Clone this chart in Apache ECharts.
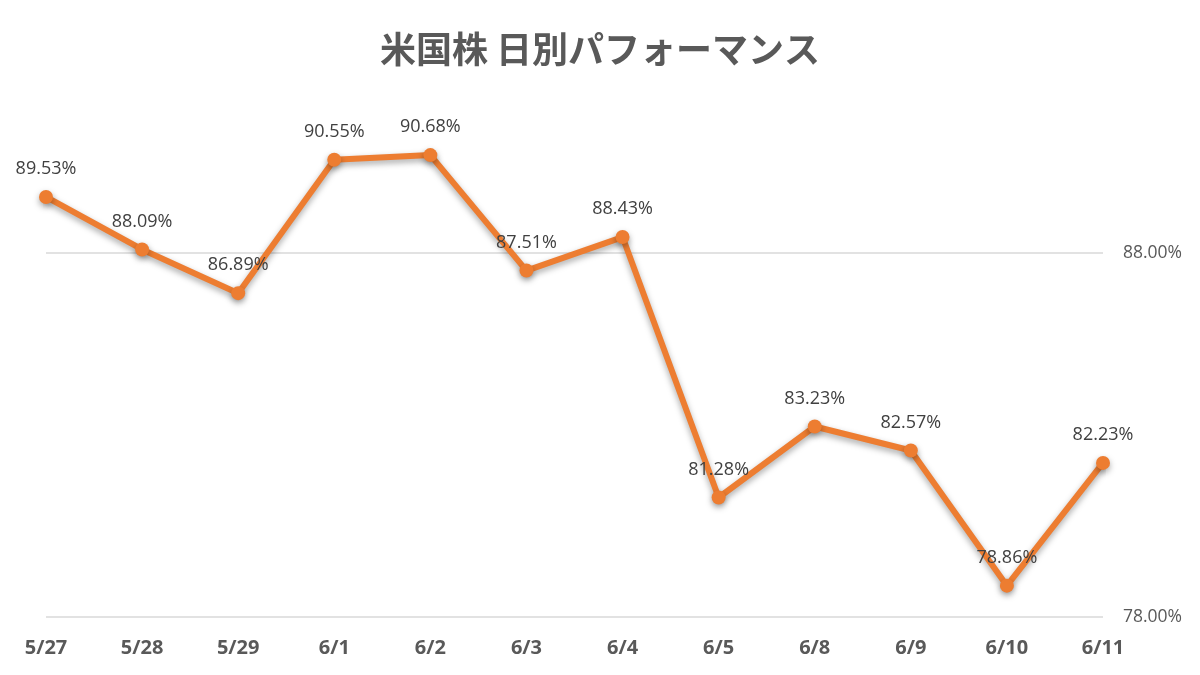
<!DOCTYPE html>
<html><head><meta charset="utf-8">
<script src="https://cdn.jsdelivr.net/npm/echarts@6/dist/echarts.min.js"></script>
<style>html,body{margin:0;padding:0;background:#fff}#c{width:1200px;height:675px}</style>
</head><body><div id="c"></div>
<script>
const title = '米国株 日別パフォーマンス';
const categories = ['5/27','5/28','5/29','6/1','6/2','6/3','6/4','6/5','6/8','6/9','6/10','6/11'];
const values = [89.53, 88.09, 86.89, 90.55, 90.68, 87.51, 88.43, 81.28, 83.23, 82.57, 78.86, 82.23];
const yMin = 78, yMax = 92, yInterval = 10;

const chart = echarts.init(document.getElementById('c'));
chart.setOption({
  animation: false,
  backgroundColor: '#fff',
  title: {
    text: title, left: 'center', top: 26,
    textStyle: { fontFamily: 'Noto Sans CJK JP', fontWeight: 'bold', fontSize: 36, color: '#595959' }
  },
  grid: { left: 46, right: 97, top: 107, bottom: 58 },
  xAxis: {
    type: 'category', data: categories, boundaryGap: false,
    axisLine: { show: false }, axisTick: { show: false },
    axisLabel: { margin: 21, fontFamily: 'Open Sans', fontWeight: 'bold', fontSize: 20, color: '#595959' }
  },
  yAxis: {
    type: 'value', position: 'right', min: yMin, max: yMax, interval: yInterval,
    axisLine: { show: false }, axisTick: { show: false },
    axisLabel: { margin: 20, showMaxLabel: false, fontFamily: 'Open Sans', fontSize: 17.5, color: '#595959',
      formatter: v => v.toFixed(2) + '%' },
    splitLine: { lineStyle: { color: ['#d9d9d9', '#d9d9d9', 'rgba(0,0,0,0)'], width: 1.5 } }
  },
  series: [{
    type: 'line', data: values,
    symbol: 'circle', symbolSize: 14,
    lineStyle: { color: '#ED7D31', width: 6, shadowColor: 'rgba(0,0,0,0.35)', shadowBlur: 6, shadowOffsetY: 3 },
    itemStyle: { color: '#ED7D31', shadowColor: 'rgba(0,0,0,0.35)', shadowBlur: 6, shadowOffsetY: 3 },
    label: { show: true, position: 'top', distance: 12, fontFamily: 'Open Sans', fontSize: 18, color: '#404040',
      formatter: p => p.value.toFixed(2) + '%' }
  }]
});
</script></body></html>
